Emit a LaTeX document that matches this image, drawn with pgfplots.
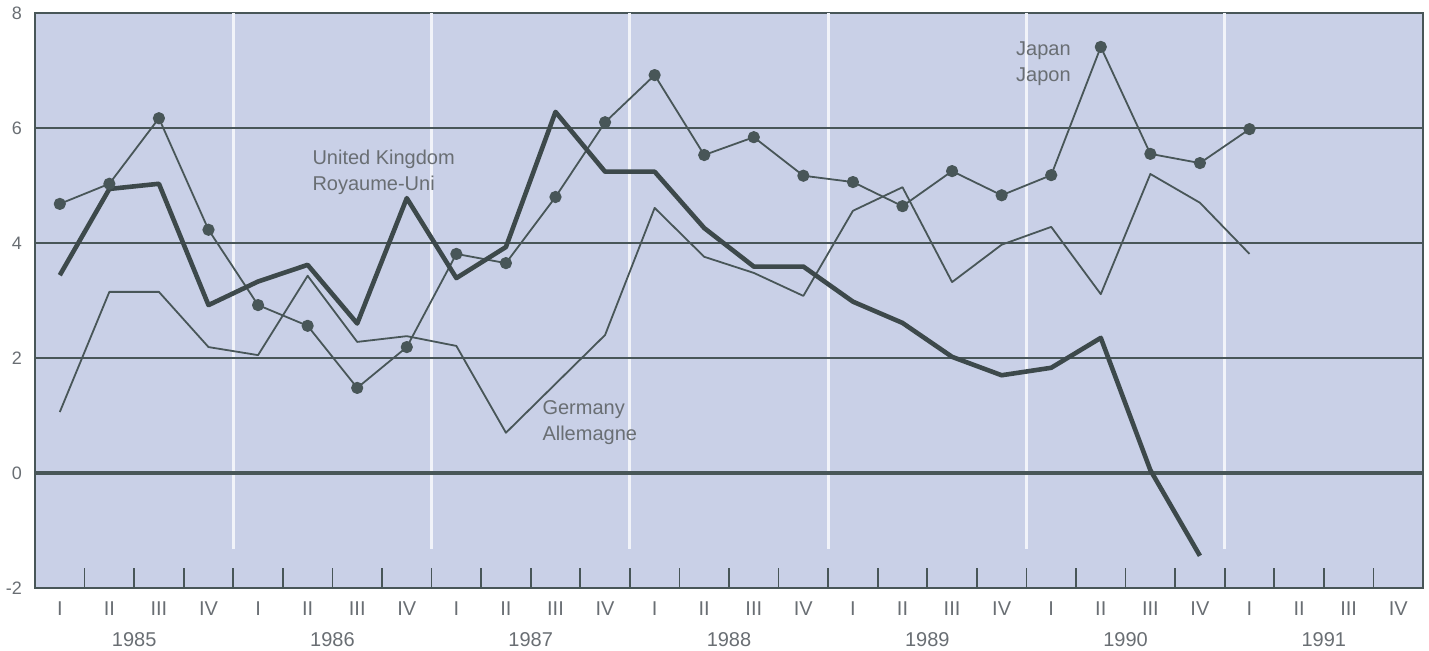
\documentclass[border=0pt]{standalone}
\usepackage{fontspec}
\setmainfont{Liberation Sans}
\usepackage{pgfplots}
\usepackage{pgfplotstable}
\pgfplotsset{compat=1.18}
\definecolor{bgc}{RGB}{201,208,231}
\definecolor{lc}{RGB}{72,86,88}
\definecolor{tc}{RGB}{105,110,115}

\pgfplotstableread{
q v
0 4.68
1 5.03
2 6.17
3 4.23
4 2.92
5 2.56
6 1.48
7 2.19
8 3.81
9 3.65
10 4.80
11 6.10
12 6.92
13 5.53
14 5.84
15 5.17
16 5.06
17 4.64
18 5.25
19 4.83
20 5.18
21 7.41
22 5.55
23 5.39
24 5.98
}\japan

\pgfplotstableread{
q v
0 1.06
1 3.15
2 3.15
3 2.19
4 2.05
5 3.43
6 2.28
7 2.38
8 2.21
9 0.70
10 1.55
11 2.40
12 4.61
13 3.76
14 3.48
15 3.08
16 4.56
17 4.97
18 3.32
19 3.97
20 4.28
21 3.11
22 5.20
23 4.70
24 3.81
}\germany

\pgfplotstableread{
q v
0 3.44
1 4.94
2 5.03
3 2.92
4 3.33
5 3.62
6 2.60
7 4.78
8 3.39
9 3.93
10 6.28
11 5.24
12 5.24
13 4.26
14 3.59
15 3.59
16 2.98
17 2.61
18 2.02
19 1.70
20 1.83
21 2.35
22 0.05
23 -1.44
}\uk

\begin{document}
\begin{tikzpicture}
\begin{axis}[
  scale only axis,
  width=694pt, height=287.5pt,
  xmin=-0.5, xmax=27.5, ymin=-2, ymax=8,
  axis background/.style={fill=bgc},
  axis line style={lc, line width=0.8pt},
  clip=false,
  xtick={0,...,27},
  xticklabels={I,II,III,IV,I,II,III,IV,I,II,III,IV,I,II,III,IV,I,II,III,IV,I,II,III,IV,I,II,III,IV},
  xtick pos=bottom,
  major x tick style={draw=none},
  minor xtick={0.5,1.5,...,26.5},
  minor tick length=10pt,
  minor x tick style={lc, line width=0.9pt},
  tick align=inside,
  xticklabel style={anchor=center, yshift=-10.5pt, text=tc, font=\fontsize{10}{12}\selectfont},
  extra x ticks={1.5,5.5,9.5,13.5,17.5,21.5,25.5},
  extra x tick labels={1985,1986,1987,1988,1989,1990,1991},
  extra x tick style={major x tick style={draw=none}, xticklabel style={yshift=-15.5pt}},
  ytick={-2,0,2,4,6,8},
  ytick pos=left,
  major y tick style={draw=none},
  yticklabel style={text=tc, font=\fontsize{9}{11}\selectfont, xshift=-3pt},
  /pgf/number format/assume math mode=true,
]
\pgfplotsinvokeforeach{3.5,7.5,11.5,15.5,19.5,23.5}{
  \addplot[white!75!bgc, line width=1.6pt, forget plot] coordinates {(#1,8) (#1,-1.33)};
}
\addplot[lc, line width=0.8pt] coordinates {(-0.5,2) (27.5,2)};
\addplot[lc, line width=0.8pt] coordinates {(-0.5,4) (27.5,4)};
\addplot[lc, line width=0.8pt] coordinates {(-0.5,6) (27.5,6)};
\addplot[lc, line width=2pt] coordinates {(-0.5,0) (27.5,0)};

\addplot[lc, line width=0.9pt, line join=round] table[x=q, y=v] {\germany};
\addplot[lc, line width=0.9pt, line join=round, mark=*, mark size=2.6pt, mark options={fill=lc, draw=lc}] table[x=q, y=v] {\japan};
\addplot[lc!85!black, line width=2.3pt, line join=round] table[x=q, y=v] {\uk};

\node[anchor=west, align=left, text=tc, font=\fontsize{10}{13}\selectfont, inner sep=0pt] at (axis cs:5.09,5.23) {United Kingdom\\Royaume-Uni};
\node[anchor=west, align=left, text=tc, font=\fontsize{10}{13}\selectfont, inner sep=0pt] at (axis cs:9.73,0.87) {Germany\\Allemagne};
\node[anchor=east, align=right, text=tc, font=\fontsize{10}{13}\selectfont, inner sep=0pt] at (axis cs:20.4,7.11) {Japan\\Japon};
\end{axis}
\pgfresetboundingbox
\path[use as bounding box] ([shift={(-17.5pt,-31pt)}]current axis.south west) rectangle ([shift={(3pt,6.5pt)}]current axis.north east);
\end{tikzpicture}
\end{document}
